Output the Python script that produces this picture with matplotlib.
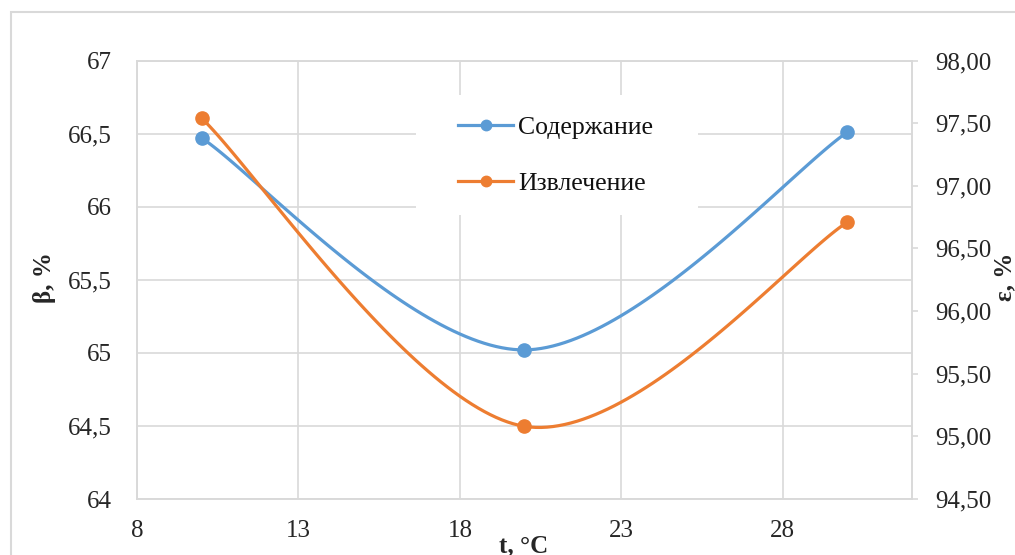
import matplotlib.pyplot as plt
import numpy as np
from matplotlib.lines import Line2D
from matplotlib.patches import Rectangle
from matplotlib.ticker import FuncFormatter, MultipleLocator

temps = [10, 20, 30]
content = [66.47, 65.02, 66.51]      # β, % (left axis)
recovery = [97.54, 95.08, 96.71]     # ε, % (right axis)
labels = ['Содержание', 'Извлечение']
x_ticks = [8, 13, 18, 23, 28]

BLUE = '#5B9BD5'
ORANGE = '#ED7D31'
GRID = '#D9D9D9'
TXT = '#262626'

plt.rcParams['font.family'] = ['Liberation Serif', 'DejaVu Serif']
plt.rcParams['font.size'] = 18


def smooth(x, y, n=60):
    # excel-like smoothed line: cubic bezier, control points from neighbours / 6
    p = np.column_stack([x, y]).astype(float)
    out = []
    for i in range(len(p) - 1):
        p0 = p[i - 1] if i > 0 else p[i]
        p3 = p[i + 2] if i + 2 < len(p) else p[i + 1]
        c1 = p[i] + (p[i + 1] - p0) / 6
        c2 = p[i + 1] - (p3 - p[i]) / 6
        t = np.linspace(0, 1, n)[:, None]
        seg = ((1 - t) ** 3) * p[i] + 3 * ((1 - t) ** 2) * t * c1 \
            + 3 * (1 - t) * t ** 2 * c2 + t ** 3 * p[i + 1]
        out.append(seg if i == 0 else seg[1:])
    out = np.vstack(out)
    return out[:, 0], out[:, 1]


fig = plt.figure(figsize=(10.15, 5.55), dpi=100)
ax = fig.add_axes([137 / 1015, 1 - 499 / 555, (912 - 137) / 1015, (499 - 60.5) / 555])
ax2 = ax.twinx()

sx, sy = smooth(temps, content)
ax.plot(sx, sy, color=BLUE, lw=2.3, solid_capstyle='round', zorder=3)
ax.plot(temps, content, 'o', color=BLUE, ms=9.5, zorder=4)

sx, sy = smooth(temps, recovery)
ax2.plot(sx, sy, color=ORANGE, lw=2.3, solid_capstyle='round', zorder=3)
ax2.plot(temps, recovery, 'o', color=ORANGE, ms=9.5, zorder=4)

ax.set_xlim(8, 32)
ax.set_ylim(64, 67)
ax2.set_ylim(94.5, 98)
ax.set_xticks(x_ticks)
ax.yaxis.set_major_locator(MultipleLocator(0.5))
ax2.yaxis.set_major_locator(MultipleLocator(0.5))

ax.yaxis.set_major_formatter(FuncFormatter(lambda v, p: ('%g' % v).replace('.', ',')))
ax2.yaxis.set_major_formatter(FuncFormatter(lambda v, p: ('%.2f' % v).replace('.', ',')))

ax.grid(True, color=GRID, lw=1.2)
ax.set_axisbelow(True)
for a in (ax, ax2):
    for s in a.spines.values():
        s.set_color(GRID)
        s.set_linewidth(1.2)
ax.tick_params(axis='both', length=0, colors=TXT, labelsize=18)
ax.tick_params(axis='y', pad=18)
ax.tick_params(axis='x', pad=15)
ax2.tick_params(axis='y', length=4, width=1.2, color=GRID, labelcolor=TXT,
                labelsize=18, pad=13)

# white box behind the legend, covers the gridlines
ax2.add_patch(Rectangle((416 / 1015, 1 - 215 / 555), 282 / 1015, 120 / 555,
                        transform=fig.transFigure, facecolor='white',
                        edgecolor='none', zorder=5))
handles = [Line2D([], [], color=BLUE, lw=2.3, marker='o', ms=7.5),
           Line2D([], [], color=ORANGE, lw=2.3, marker='o', ms=7.5)]
leg = ax2.legend(handles, labels, loc='center left', frameon=False,
                 bbox_to_anchor=(458 / 1015, 1 - 155.5 / 555),
                 bbox_transform=fig.transFigure, borderpad=0, borderaxespad=0,
                 handlelength=2.15, handletextpad=0.2, labelspacing=1.25,
                 fontsize=18.5)
leg.set_zorder(6)
for t in leg.get_texts():
    t.set_color('#111111')

fig.text(44 / 1015, 1 - 278 / 555, 'β, %', rotation=90, ha='center', va='center',
         fontweight='bold', fontsize=18, color=TXT)
fig.text(1005 / 1015, 1 - 277 / 555, 'ε, %', rotation=90, ha='center', va='center',
         fontweight='bold', fontsize=18, color=TXT)
fig.text(524 / 1015, 1 - 552 / 555, 't, °C', ha='center', va='baseline',
         fontweight='bold', fontsize=18, color=TXT)

# chart area border (only top and left edges fall inside the picture)
fig.patches.append(Rectangle((11 / 1015, -0.1), 1.2, 1.1 - 12 / 555,
                             transform=fig.transFigure, fill=False,
                             edgecolor=GRID, lw=1.5))

plt.savefig('out.png', dpi=100)
